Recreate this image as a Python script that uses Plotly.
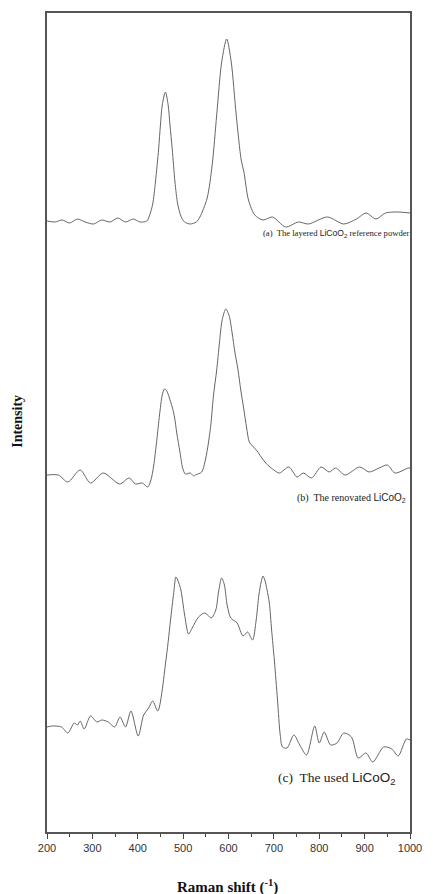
import plotly.graph_objects as go

# Raman spectra (wavenumber in cm^-1, intensity in arbitrary stacked units)
wn_a = [200, 218, 233, 250, 267, 284, 303, 320, 339, 356, 373, 390, 405, 420, 427, 433, 439, 446, 450, 454,
        461, 467, 471, 476, 482, 488, 495, 503, 516, 529, 537, 553, 564, 574, 585, 596, 606, 617, 628, 634,
        644, 658, 676, 697, 726, 754, 776, 818, 854, 882, 903, 925, 946, 974, 1000]
int_a = [611, 610, 612, 609, 613, 610, 608, 612, 610, 614, 610, 613, 610, 611, 618, 628, 650, 683, 707, 727,
         740, 727, 707, 683, 650, 628, 616, 610, 608, 610, 615, 634, 667, 717, 770, 793, 770, 717, 672, 660,
         632, 617, 612, 615, 605, 610, 608, 615, 608, 613, 619, 613, 619, 620, 619]

wn_b = [200, 225, 246, 273, 296, 324, 360, 381, 395, 410, 422, 429, 435, 442, 448, 454, 459, 464, 469, 476,
        481, 486, 493, 499, 505, 516, 523, 527, 541, 548, 554, 561, 567, 574, 580, 586, 594, 601, 608, 614,
        621, 627, 633, 640, 646, 655, 663, 672, 682, 697, 712, 733, 751, 765, 783, 804, 822, 836, 857, 889,
        910, 932, 950, 967, 996, 1000]
int_b = [357, 357, 350, 362, 349, 359, 348, 354, 348, 349, 345, 352, 366, 392, 417, 437, 443, 441, 435, 425,
         415, 399, 380, 364, 358, 359, 356, 357, 360, 370, 384, 407, 437, 462, 489, 512, 523, 517, 499, 480,
         462, 442, 425, 404, 390, 385, 381, 375, 369, 363, 359, 365, 355, 359, 354, 365, 360, 364, 357, 365,
         360, 364, 367, 359, 364, 364]

wn_c = [200, 211, 232, 246, 260, 267, 273, 282, 296, 310, 321, 335, 349, 361, 373, 385, 401, 413, 424, 433,
        444, 463, 473, 480, 484, 488, 495, 503, 512, 520, 534, 548, 562, 572, 578, 585, 591, 597, 605, 619,
        632, 642, 653, 661, 667, 672, 676, 680, 685, 690, 695, 701, 708, 714, 719, 729, 744, 757, 772, 790,
        800, 811, 825, 839, 854, 871, 886, 903, 918, 942, 960, 974, 992, 1000]
int_c = [105, 106, 105, 99, 109, 107, 111, 103, 116, 110, 112, 110, 105, 115, 105, 121, 96, 117, 124, 131,
         121, 175, 215, 242, 255, 252, 242, 218, 198, 204, 215, 219, 214, 222, 240, 254, 247, 227, 214, 209,
         196, 200, 192, 212, 237, 250, 256, 252, 242, 229, 202, 172, 132, 97, 85, 84, 97, 87, 77, 106,
         89, 100, 87, 89, 99, 95, 74, 79, 70, 85, 83, 76, 93, 92]

x_ticks = [200, 300, 400, 500, 600, 700, 800, 900, 1000]

line_color = "#666666"
fig = go.Figure()
for xs, ys in [(wn_a, int_a), (wn_b, int_b), (wn_c, int_c)]:
    fig.add_trace(go.Scatter(x=xs, y=ys, mode="lines",
                             line=dict(color=line_color, width=1, shape="spline", smoothing=0.8),
                             showlegend=False, hoverinfo="skip"))

serif = "Liberation Serif, Times New Roman, serif"
sans = "Liberation Sans, Arial, sans-serif"

def label(prefix, body=None):
    t = (f"<span style='font-family:{serif}'>{prefix}</span>"
         f"<span style='font-family:{sans}'>LiCoO<sub>2</sub></span>")
    if body:
        t += f"<span style='font-family:{serif}'>{body}</span>"
    return t

annotations = [
    dict(x=672, y=599, xref="x", yref="y", xanchor="left", yanchor="middle", showarrow=False,
         text=label("(a)  The layered ", " reference powder"), font=dict(size=8.6, color="#222")),
    dict(x=746, y=334, xref="x", yref="y", xanchor="left", yanchor="middle", showarrow=False,
         text=label("(b)  The renovated "), font=dict(size=10, color="#222")),
    dict(x=704, y=54, xref="x", yref="y", xanchor="left", yanchor="middle", showarrow=False,
         text=label("(c)  The used "), font=dict(size=13.5, color="#222")),
    dict(x=-0.08, y=0.502, xref="paper", yref="paper", xanchor="center", yanchor="middle", showarrow=False,
         text="<b>Intensity</b>", textangle=-90, font=dict(family=serif, size=14, color="#111")),
    dict(x=0.497, y=-0.067, xref="paper", yref="paper", xanchor="center", yanchor="middle", showarrow=False,
         text="<b>Raman shift (<sup>-1</sup>)</b>", font=dict(family=serif, size=15, color="#111")),
]

fig.update_layout(
    width=433, height=894,
    margin=dict(l=47, r=11, t=13, b=62),
    paper_bgcolor="white", plot_bgcolor="white",
    annotations=annotations,
    xaxis=dict(range=[200, 1000], tickvals=x_ticks, ticks="outside", ticklen=5, tickwidth=1,
               tickcolor="#444", showline=True, linecolor="#555", linewidth=1.5, mirror=True,
               showgrid=False, zeroline=False,
               tickfont=dict(family=sans, size=11, color="#333"),
               minor=dict(dtick=50, ticks="outside", ticklen=3, tickcolor="#444", showgrid=False)),
    yaxis=dict(range=[0, 819], showticklabels=False, ticks="", showline=True, linecolor="#555",
               linewidth=1.5, mirror=True, showgrid=False, zeroline=False),
)

fig.write_html("out.html")
